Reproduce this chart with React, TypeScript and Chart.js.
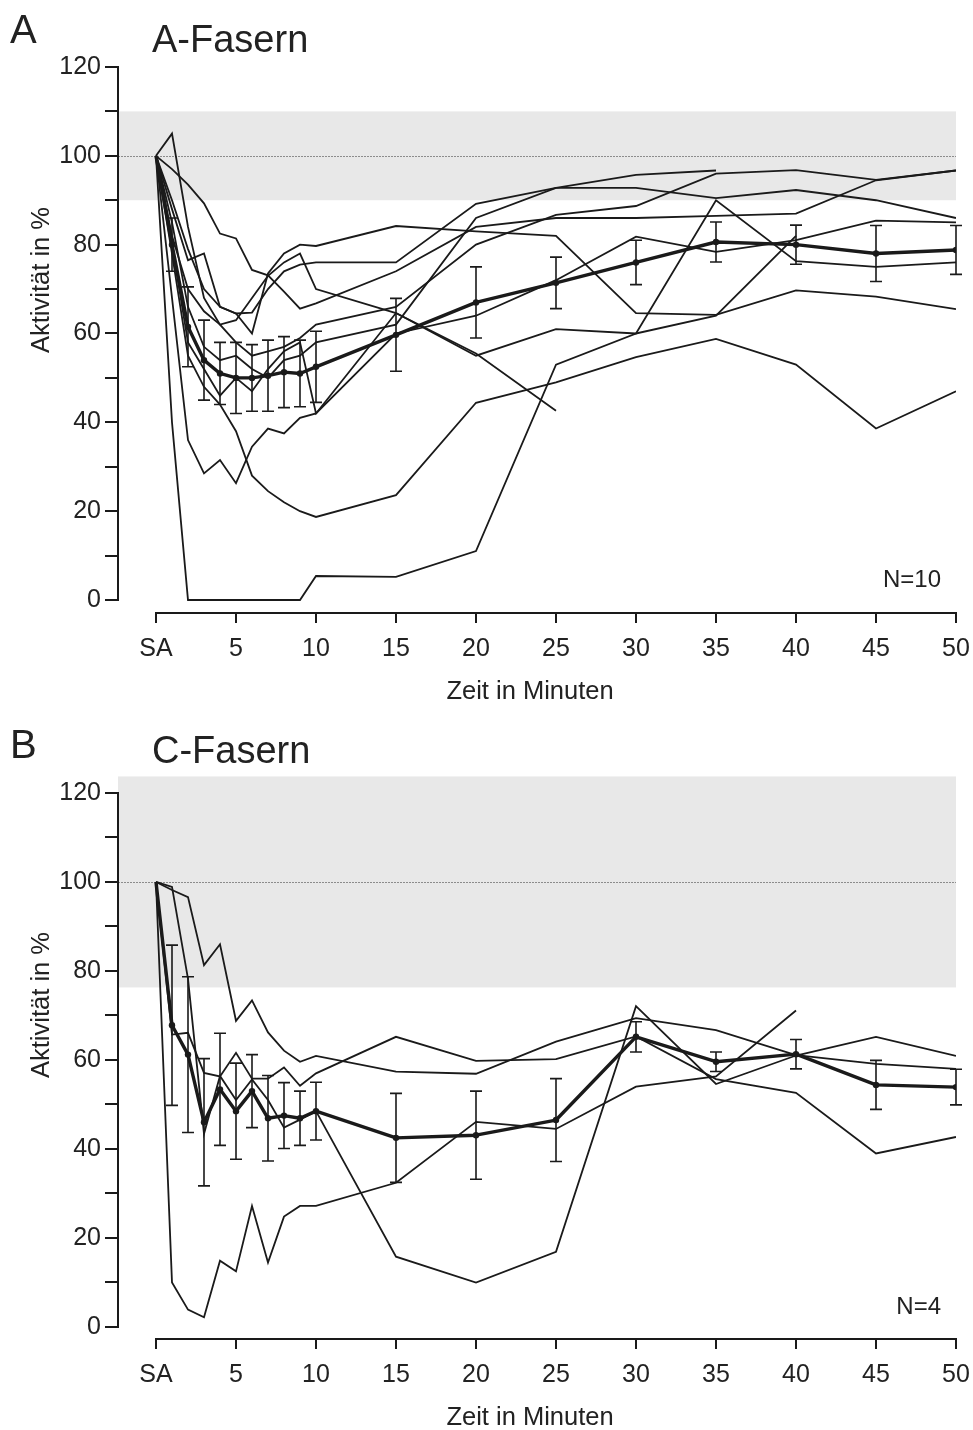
import React, { useEffect, useRef } from "react";
import { Chart, registerables } from "chart.js";

Chart.register(...registerables);

// ---------- data ----------
const times = [0, 1, 2, 3, 4, 5, 6, 7, 8, 9, 10, 15, 20, 25, 30, 35, 40, 45, 50];
const xTickValues = [0, 5, 10, 15, 20, 25, 30, 35, 40, 45, 50];
const xTickLabels = ["SA", "5", "10", "15", "20", "25", "30", "35", "40", "45", "50"];
const yTickValues = [0, 10, 20, 30, 40, 50, 60, 70, 80, 90, 100, 110, 120];
const yTickLabels = ["0", "", "20", "", "40", "", "60", "", "80", "", "100", "", "120"];

// A-Fasern: individual fibres (null = no more measurement)
const aFibre1 = [100, 40, 0, 0, 0, 0, 0, 0, 0, 0, 5.4, 5.2, 11, 53, 60, 90, 76.3, 75, 76];
const aFibre2 = [100, 68, 36, 28.5, 31.5, 26.3, 34.5, 38.6, 37.5, 41, 42, 64.6, 55.5, 42.6, null, null, null, null, null];
const aFibre3 = [100, 78, 55, 48, 44, 38, 28, 24.5, 22, 20, 18.7, 23.6, 44.4, 49, 54.7, 58.8, 53, 38.6, 47];
const aFibre4 = [100, 97, 93.5, 89.3, 82.5, 81.4, 74.3, 73.1, 69.4, 65.6, 66.8, 74, 84, 86, 86, 86.5, 87, 94.5, 96.7];
const aFibre5 = [100, 90, 79, 70, 66, 64.5, 64.7, 70, 74, 75.5, 76, 76, 89.2, 92.8, 95.7, 96.7, null, null, null];
const aFibre6 = [100, 88, 76.5, 78, 66, 64.5, 60, 73.5, 78, 80, 79.7, 84.2, 83, 82, 64.6, 64.2, 69.7, 68.3, 65.5];
const aFibre7 = [100, 105, 84, 68, 62, 58, 55, 56, 57, 59, 62, 66, 80, 86.7, 88.7, 96, 96.8, 94.6, 96.7];
const aFibre8 = [100, 85, 66, 57, 54, 55, 52, 50, 54, 55, 58, 62, 86, 92.8, 92.8, 90.5, 92.3, 90, 86];
const aFibre9 = [100, 80, 58, 52, 46, 50, 47, 52, 56, 58, 42, 60, 64, 72, 81.8, 78.4, 81, 85.4, 85];
const aFibre10 = [100, 82, 70, 65, 62, 63, 68, 73, 76, 78, 70, 64.6, 55, 61, 60, 64, 82, null, null];
const aMean = [100, 80, 61.5, 54, 51, 50, 50, 50.5, 51.3, 51, 52.5, 59.7, 67, 71.4, 76, 80.6, 80, 78, 78.8];
const aErr = [0, 6, 9, 9, 7, 8, 7.5, 8, 8, 7.5, 8, 8.2, 8, 5.8, 5, 4.5, 4.4, 6.3, 5.5];
const aBand = [90, 110];

// C-Fasern
const bFibre1 = [100, 98.2, 96.6, 81.3, 86, 68.8, 73.4, 66.2, 62.1, 59.6, 60.9, 57.4, 56.9, 64.1, 69.4, 66.7, 61.1, 59.1, 58];
const bFibre2 = [100, 65.7, 66.1, 57.1, 56.3, 61.6, 55.8, 55.8, 58.3, 54.2, 57, 65.2, 59.8, 60.2, 65.3, 55.7, 52.6, 39, 42.7];
const bFibre3 = [100, 98.9, 78.2, 43.4, 56.4, 51, 55.6, 51, 44.8, 46.6, 48.5, 15.8, 10, 16.9, 72.1, 54.6, 61, 65.2, 60.9];
const bFibre4 = [100, 10, 3.9, 2.2, 14.9, 12.5, 27.2, 14.5, 24.8, 27.2, 27.2, 32.4, 46.1, 44.5, 54, 56.3, 71.1, null, null];
const bMean = [100, 67.8, 61.2, 46, 53.4, 48.5, 53, 46.9, 47.5, 46.9, 48.5, 42.5, 43.1, 46.5, 65.2, 59.6, 61.3, 54.4, 53.9];
const bErr = [0, 18, 17.5, 14.3, 12.6, 10.8, 8.2, 9.6, 7.4, 6.1, 6.5, 10, 9.9, 9.3, 3.4, 2.2, 3.3, 5.5, 4];
const bBand = [76.3, 123.7];

// ---------- styling / layout ----------
const FONT = "'Liberation Sans', Arial, Helvetica, sans-serif";
const INK = "#1a1a1a";
const W = 973;
const H = 715;

type PanelCfg = {
  top: number;
  letter: string;
  title: string;
  n: string;
  fibres: (number | null)[][];
  mean: number[];
  err: number[];
  band: number[];
  yMin: number;
  yMax: number;
  padTop: number;
  xAxisH: number;
  titleBase: number;
  letterBase: number;
  nBase: number;
  xTitleY: number;
  yTitleY: number;
};

const panels: PanelCfg[] = [
  {
    top: 0, letter: "A", title: "A-Fasern", n: "N=10",
    fibres: [aFibre1, aFibre2, aFibre3, aFibre4, aFibre5, aFibre6, aFibre7, aFibre8, aFibre9, aFibre10],
    mean: aMean, err: aErr, band: aBand,
    yMin: -2.927, yMax: 124.05, padTop: 49, xAxisH: 102,
    titleBase: 52, letterBase: 43, nBase: 587, xTitleY: 692, yTitleY: 280,
  },
  {
    top: 715, letter: "B", title: "C-Fasern", n: "N=4",
    fibres: [bFibre1, bFibre2, bFibre3, bFibre4],
    mean: bMean, err: bErr, band: bBand,
    yMin: -2.697, yMax: 126.5, padTop: 49, xAxisH: 91,
    titleBase: 48, letterBase: 43, nBase: 599, xTitleY: 703, yTitleY: 290,
  },
];

function toPoints(vals: (number | null)[]) {
  return times
    .map((t, i) => ({ x: t, y: vals[i] }))
    .filter((p) => p.y !== null && p.y !== undefined);
}

function makeDecor(cfg: PanelCfg) {
  return {
    id: "decor",
    beforeDatasetsDraw(chart: any) {
      const { ctx, chartArea, scales } = chart;
      const x = scales.x;
      const y = scales.y;
      const xr = x.getPixelForValue(50);
      ctx.save();
      const yt = y.getPixelForValue(cfg.band[1]);
      const yb = y.getPixelForValue(cfg.band[0]);
      ctx.fillStyle = "#e8e8e8";
      ctx.fillRect(chartArea.left, yt, xr - chartArea.left, yb - yt);
      const y100 = Math.round(y.getPixelForValue(100)) + 0.5;
      ctx.strokeStyle = "#8c8c8c";
      ctx.lineWidth = 1;
      ctx.setLineDash([2, 1]);
      ctx.beginPath();
      ctx.moveTo(chartArea.left, y100);
      ctx.lineTo(xr, y100);
      ctx.stroke();
      ctx.restore();
    },
    afterDatasetsDraw(chart: any) {
      const { ctx, scales } = chart;
      const x = scales.x;
      const y = scales.y;
      ctx.save();
      ctx.strokeStyle = INK;
      ctx.lineWidth = 1.6;
      cfg.mean.forEach((m, i) => {
        const e = cfg.err[i];
        if (!e) return;
        const px = x.getPixelForValue(times[i]);
        const y1 = y.getPixelForValue(m + e);
        const y2 = y.getPixelForValue(m - e);
        ctx.beginPath();
        ctx.moveTo(px, y1);
        ctx.lineTo(px, y2);
        ctx.moveTo(px - 6, y1);
        ctx.lineTo(px + 6, y1);
        ctx.moveTo(px - 6, y2);
        ctx.lineTo(px + 6, y2);
        ctx.stroke();
      });
      ctx.restore();
    },
    afterDraw(chart: any) {
      const { ctx, chartArea, scales } = chart;
      const x = scales.x;
      const y = scales.y;
      ctx.save();
      ctx.strokeStyle = INK;
      ctx.lineWidth = 2;
      ctx.lineCap = "square";
      // offset axis lines
      ctx.beginPath();
      ctx.moveTo(chartArea.left, y.getPixelForValue(0));
      ctx.lineTo(chartArea.left, y.getPixelForValue(120));
      ctx.stroke();
      ctx.beginPath();
      ctx.moveTo(x.getPixelForValue(0), chartArea.bottom);
      ctx.lineTo(x.getPixelForValue(50), chartArea.bottom);
      ctx.stroke();
      // texts
      ctx.fillStyle = "#222";
      ctx.textBaseline = "alphabetic";
      ctx.textAlign = "left";
      ctx.font = `40px ${FONT}`;
      ctx.fillText(cfg.letter, 10, cfg.letterBase);
      ctx.font = `38px ${FONT}`;
      ctx.fillText(cfg.title, 152, cfg.titleBase);
      ctx.font = `24px ${FONT}`;
      ctx.textAlign = "right";
      ctx.fillText(cfg.n, 941, cfg.nBase);
      ctx.font = `25.5px ${FONT}`;
      ctx.textAlign = "center";
      ctx.textBaseline = "middle";
      ctx.fillText("Zeit in Minuten", 530, cfg.xTitleY);
      ctx.translate(42, cfg.yTitleY);
      ctx.rotate(-Math.PI / 2);
      ctx.fillText("Aktivität in %", 0, 0);
      ctx.restore();
    },
  };
}

function Panel({ cfg }: { cfg: PanelCfg }) {
  const ref = useRef<HTMLCanvasElement | null>(null);
  useEffect(() => {
    if (!ref.current) return;
    const datasets: any[] = [
      {
        data: toPoints(cfg.mean),
        borderColor: INK,
        backgroundColor: INK,
        borderWidth: 3.4,
        pointRadius: cfg.mean.map((_, i) => (i === 0 ? 0 : 3.2)),
        pointBackgroundColor: INK,
        pointBorderWidth: 0,
        borderJoinStyle: "round",
        tension: 0,
        order: 0,
      },
      ...cfg.fibres.map((f) => ({
        data: toPoints(f),
        borderColor: INK,
        borderWidth: 1.8,
        pointRadius: 0,
        borderJoinStyle: "miter",
        tension: 0,
        order: 1,
      })),
    ];
    const chart = new Chart(ref.current, {
      type: "line",
      data: { datasets },
      options: {
        animation: false,
        responsive: false,
        devicePixelRatio: 1,
        layout: { padding: { top: cfg.padTop, right: 17, left: 0, bottom: 0 } },
        plugins: { legend: { display: false }, tooltip: { enabled: false }, title: { display: false } },
        scales: {
          x: {
            type: "linear",
            min: -2.375,
            max: 50,
            afterBuildTicks: (s: any) => {
              s.ticks = xTickValues.map((v) => ({ value: v }));
            },
            afterFit: (s: any) => {
              s.height = cfg.xAxisH;
              s.paddingLeft = 0;
              s.paddingRight = 0;
            },
            ticks: {
              autoSkip: false,
              maxRotation: 0,
              minRotation: 0,
              padding: 11,
              color: "#222",
              font: { family: FONT, size: 25 },
              callback: (v: any) => xTickLabels[xTickValues.indexOf(Number(v))],
            },
            grid: { display: true, drawOnChartArea: false, drawTicks: true, tickLength: 10, color: INK, lineWidth: 2 },
            border: { display: false },
          },
          y: {
            type: "linear",
            min: cfg.yMin,
            max: cfg.yMax,
            afterBuildTicks: (s: any) => {
              s.ticks = yTickValues.map((v) => ({ value: v }));
            },
            afterFit: (s: any) => {
              s.width = 118;
              s.paddingTop = 0;
              s.paddingBottom = 0;
            },
            ticks: {
              autoSkip: false,
              padding: 4,
              color: "#222",
              font: { family: FONT, size: 25 },
              callback: (v: any) => yTickLabels[yTickValues.indexOf(Number(v))],
            },
            grid: { display: true, drawOnChartArea: false, drawTicks: true, tickLength: 13, color: INK, lineWidth: 2 },
            border: { display: false },
          },
        },
      } as any,
      plugins: [makeDecor(cfg)],
    });
    return () => chart.destroy();
  }, [cfg]);
  return (
    <div style={{ position: "absolute", left: 0, top: cfg.top, width: W, height: H }}>
      <canvas ref={ref} width={W} height={H} style={{ width: W, height: H, display: "block" }} />
    </div>
  );
}

export default function App() {
  useEffect(() => {
    document.body.style.margin = "0";
    document.body.style.background = "#fff";
  }, []);
  return (
    <div style={{ position: "absolute", left: 0, top: 0, width: W, height: 1430, background: "#fff" }}>
      {panels.map((p) => (
        <Panel key={p.letter} cfg={p} />
      ))}
    </div>
  );
}
